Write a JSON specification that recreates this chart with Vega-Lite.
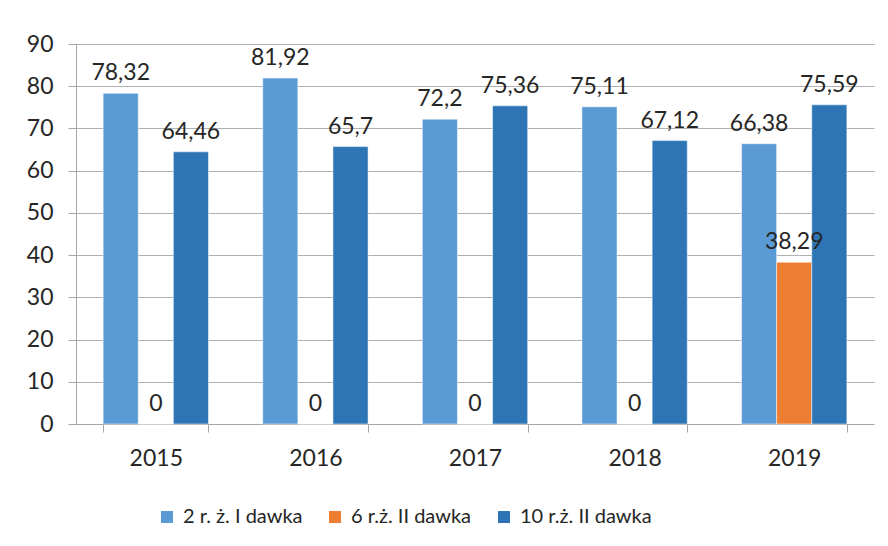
{
  "$schema": "https://vega.github.io/schema/vega-lite/v6.json",
  "width": 798,
  "height": 380,
  "autosize": {"type": "none"},
  "padding": {"left": 76, "top": 44, "right": 14, "bottom": 122},
  "background": "white",
  "config": {
    "font": "Lato",
    "view": {"stroke": null},
    "locale": {"number": {"decimal": ",", "thousands": " ", "grouping": [3], "currency": ["", " zł"]}}
  },
  "data": {
    "values": [
      {"year": "2015", "series": "2 r. ż. I dawka", "value": 78.32},
      {"year": "2015", "series": "6 r.ż. II dawka", "value": 0},
      {"year": "2015", "series": "10 r.ż. II dawka", "value": 64.46},
      {"year": "2016", "series": "2 r. ż. I dawka", "value": 81.92},
      {"year": "2016", "series": "6 r.ż. II dawka", "value": 0},
      {"year": "2016", "series": "10 r.ż. II dawka", "value": 65.7},
      {"year": "2017", "series": "2 r. ż. I dawka", "value": 72.2},
      {"year": "2017", "series": "6 r.ż. II dawka", "value": 0},
      {"year": "2017", "series": "10 r.ż. II dawka", "value": 75.36},
      {"year": "2018", "series": "2 r. ż. I dawka", "value": 75.11},
      {"year": "2018", "series": "6 r.ż. II dawka", "value": 0},
      {"year": "2018", "series": "10 r.ż. II dawka", "value": 67.12},
      {"year": "2019", "series": "2 r. ż. I dawka", "value": 66.38},
      {"year": "2019", "series": "6 r.ż. II dawka", "value": 38.29},
      {"year": "2019", "series": "10 r.ż. II dawka", "value": 75.59}
    ]
  },
  "encoding": {
    "x": {
      "field": "year", "type": "nominal",
      "scale": {"paddingInner": 0.34, "paddingOuter": 0.17},
      "axis": {
        "title": null, "labelAngle": 0, "labelFontSize": 23, "labelColor": "#262626",
        "labelPadding": 15, "labelBaseline": "top", "tickBand": "extent", "tickSize": 8,
        "tickColor": "#a6a6a6", "domainColor": "#a6a6a6", "grid": false
      }
    },
    "xOffset": {
      "field": "series", "type": "nominal",
      "sort": ["2 r. ż. I dawka", "6 r.ż. II dawka", "10 r.ż. II dawka"],
      "scale": {"paddingInner": 0, "paddingOuter": 0}
    },
    "y": {
      "field": "value", "type": "quantitative",
      "scale": {"domain": [0, 90], "nice": false},
      "axis": {
        "title": null, "values": [0, 10, 20, 30, 40, 50, 60, 70, 80, 90],
        "labelFontSize": 23, "labelColor": "#262626", "tickSize": 8, "labelPadding": 15,
        "tickColor": "#a6a6a6", "domainColor": "#a6a6a6", "gridColor": "#b0b0b0",
        "grid": true, "labelBaseline": "middle"
      }
    }
  },
  "layer": [
    {
      "mark": {"type": "bar", "stroke": "white", "strokeWidth": 0.5},
      "encoding": {
        "color": {
          "field": "series", "type": "nominal",
          "sort": ["2 r. ż. I dawka", "6 r.ż. II dawka", "10 r.ż. II dawka"],
          "scale": {"domain": ["2 r. ż. I dawka", "6 r.ż. II dawka", "10 r.ż. II dawka"], "range": ["#5b9bd5", "#ed7d31", "#2e75b6"]},
          "legend": {
            "title": null, "orient": "none", "direction": "horizontal",
            "legendX": 81, "legendY": 463,
            "symbolType": "square", "symbolSize": 144, "symbolStrokeWidth": 0,
            "labelFontSize": 20, "labelColor": "#262626", "labelOffset": 6, "columnPadding": 22
          }
        }
      }
    },
    {
      "mark": {"type": "text", "baseline": "alphabetic", "dy": -13, "fontSize": 23, "color": "#262626"},
      "encoding": {
        "text": {"field": "value", "type": "quantitative", "format": "~r"}
      }
    }
  ]
}
